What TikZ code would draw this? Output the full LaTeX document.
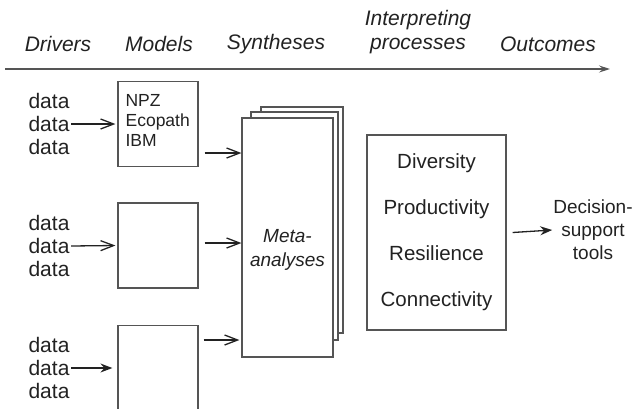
\documentclass[tikz,border=0pt]{standalone}
\usepackage{fontspec}
\setmainfont{Liberation Sans}
\usetikzlibrary{arrows.meta,positioning}
\definecolor{ln}{HTML}{555555}
\definecolor{tx}{HTML}{222222}
\begin{document}
\begin{tikzpicture}[x=1pt,y=-1pt,
  box/.style={draw=ln,line width=1.2pt,fill=white,minimum width=80pt,minimum height=85pt,inner sep=0pt},
  datatxt/.style={text=tx,font=\fontsize{21}{23}\selectfont,align=center,inner sep=1.5pt},
  head/.style={text=tx,font=\fontsize{21}{24}\selectfont\itshape,align=center,inner sep=0pt},
  openarr/.style={draw=tx,line width=1.3pt,-{Straight Barb[length=13pt,width=10pt,line width=1.3pt]}},
  fillarr/.style={draw=tx,line width=1.3pt,-{Stealth[length=12pt,width=9pt,inset=4pt]}}]
\useasboundingbox (0,0) rectangle (635,408);
% header
\node[head] (h1) at (58,44) {Drivers};
\node[head] (h2) at (159,44) {Models};
\node[head] (h3) at (276,44) {Syntheses};
\node[head] (h4) at (418,32) {Interpreting\\processes};
\node[head] (h5) at (548,44) {Outcomes};
\coordinate (ax0) at (5,69);
\coordinate (ax1) at (610,69);
\draw[draw=ln,line width=1.4pt,-{Stealth[length=11pt,width=7pt,inset=4pt]}] (ax0) -- (ax1);
% models boxes
\node[box] (m1) at (158,124) {};
\node[box] (m2) at (158,245.5) {};
\node[box] (m3) at (158,368) {};
\node[anchor=north west,text=tx,font=\fontsize{17.5}{20}\selectfont,align=left,inner sep=0pt] (mt) at ([shift={(8,13)}]m1.north west) {NPZ\\Ecopath\\IBM};
% data
\node[datatxt] (d1) at (49,124) {data\\data\\data};
\node[datatxt] (d2) at (49,246) {data\\data\\data};
\node[datatxt] (d3) at (49,368) {data\\data\\data};
\draw[openarr] (d1.east) -- ([xshift=-2pt]m1.west);
\draw[openarr] (d2.east) -- ([xshift=-2pt]m2.west);
\draw[fillarr] (d3.east) -- ([xshift=-5pt]m3.west);
% meta stack
\node[box,minimum width=82pt,minimum height=226pt] (s3) at (302,220) {};
\node[box,minimum width=87pt,minimum height=228pt] (s2) at (294.5,226) {};
\node[box,minimum width=91pt,minimum height=239pt] (meta) at (287.5,237.5) {};
\node[text=tx,font=\fontsize{19}{24}\selectfont\itshape,align=center] (mtx) at ([yshift=-12pt]meta.center) {Meta-\\analyses};
\draw[openarr] ([xshift=6pt]m1.east |- 0,153) -- (meta.west |- 0,153);
\draw[openarr] ([xshift=6pt]m2.east |- 0,243) -- (meta.west |- 0,243);
\draw[openarr] ([xshift=5pt]m3.east |- 0,340) -- ([xshift=-2pt]meta.west |- 0,340);
% right box
\node[box,minimum width=139pt,minimum height=195pt,text=tx,font=\fontsize{20.5}{46}\selectfont,align=center] (rb) at (436.5,232.5) {Diversity\\Productivity\\Resilience\\Connectivity};
\node[text=tx,font=\fontsize{19}{23}\selectfont,align=center,inner sep=1pt] (dst) at (593,230) {Decision-\\support\\tools};
\draw[fillarr] ([xshift=6pt]rb.east) -- (dst.west);
\end{tikzpicture}
\end{document}
